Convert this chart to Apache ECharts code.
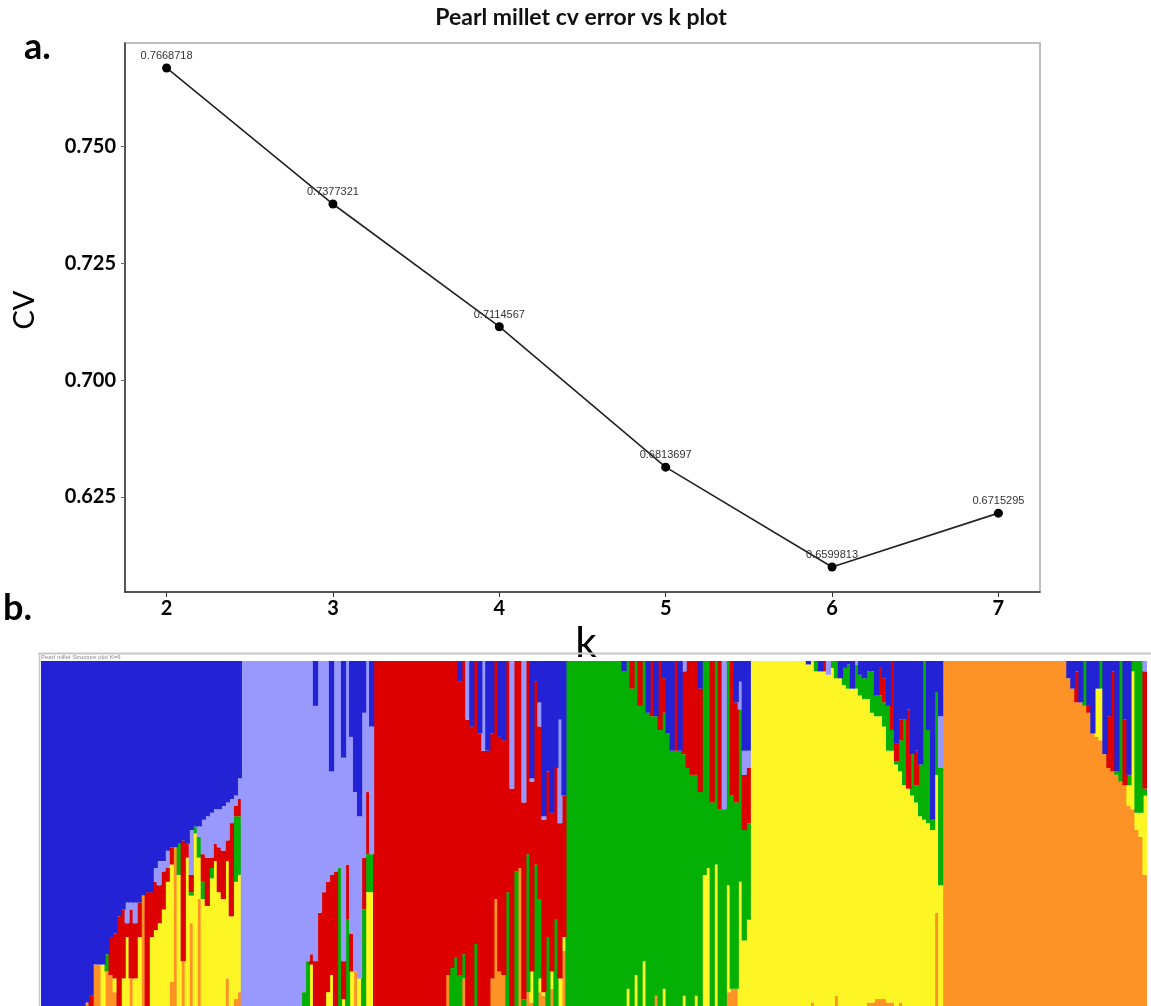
<!DOCTYPE html>
<html>
<head>
<meta charset="UTF-8">
<title>Pearl millet cv error vs k plot</title>
<script src="https://cdn.jsdelivr.net/npm/echarts@6/dist/echarts.min.js"></script>
<style>
    html, body { margin: 0; padding: 0; background: #fff; }
    #main { width: 1151px; height: 1006px; }
</style>
</head>
<body>
<div id="main"></div>
<script>
// ---- panel a: cross-validation error for each K ----
var kValues = [2, 3, 4, 5, 6, 7];
var cvError = [0.7668718, 0.7377321, 0.7114567, 0.6813697, 0.6599813, 0.6715295];
// tick labels as printed on the original figure (the lowest one reads 0.625)
var yTickValues = [0.675, 0.700, 0.725, 0.750];
var yTickLabels = ['0.625', '0.700', '0.725', '0.750'];

// ---- panel b: membership (%) of every accession in the 6 clusters, K=6 ----
// accessions left to right, one line per cluster block
var blueQ = [
    100,100,100,100,100,100,100,100,100,100,100,99,97,88,88,88,85,80,79,74,72,70,70,70,70,68,67,67,60,58,58,55,54,54,53,52,53,49,48,48,46,45,44,43,43,42,41,40,39,34,
    0,0,0,0,0,0,0,0,0,0,0,0,0,0,0,0,0,0,13,0,0,0,32,0,0,28,0,22,38,45,15,0,19,
    0,0,0,0,0,0,0,0,0,0,0,0,0,0,0,0,0,0,0,0,0,6,0,0,19,0,21,0,26,21,0,22,23,0,0,0,0,0,0,34,6,12,45,32,44,31,17,39,
    0,0,0,0,0,0,0,0,0,0,0,0,0,0,3,0,0,0,0,0,15,0,16,0,5,21,26,0,26,0,0,0,0,8,0,0,0,0,0,0,0,0,12,6,26,26,
    0,0,0,0,0,0,0,0,0,0,0,0,0,0,1,0,0,3,0,0,0,0,5,2,1,8,0,4,5,3,3,10,2,5,13,0,24,17,17,14,27,26,30,0,20,46,9,16,
    0,0,0,0,0,0,0,0,0,0,0,0,0,0,0,0,0,0,0,0,0,0,0,0,0,0,0,0,0,0,0,5,8,3,12,0,13,21,8,0,27,16,3,32,0,17,33,0,0,0,0
];
var lilacQ = [
    0,0,0,0,0,0,0,0,0,0,0,0,0,0,0,0,0,0,0,0,0,6,2,6,0,0,0,0,4,7,3,5,0,0,0,0,0,13,0,3,10,12,13,10,11,13,11,7,3,6,
    100,100,100,100,100,100,100,100,100,100,100,100,100,100,100,96,87,85,74,73,67,64,30,61,60,59,59,57,52,47,42,38,37,
    0,0,0,0,0,0,0,0,0,0,0,0,0,0,0,0,0,0,0,0,0,0,0,17,0,0,0,26,0,0,0,0,0,0,37,0,0,41,0,1,0,7,1,0,0,0,30,0,
    0,0,0,0,0,0,0,0,0,0,0,0,0,0,0,0,0,0,0,0,0,0,0,0,0,0,0,0,0,3,0,0,0,0,0,0,0,0,0,43,0,0,0,8,7,5,
    0,0,0,0,0,0,0,0,0,0,0,0,0,0,0,0,0,0,0,4,0,0,0,0,0,0,1,0,0,0,0,0,0,0,0,0,0,0,0,0,0,0,0,0,0,0,0,15,
    0,0,0,0,0,0,0,0,0,0,0,0,0,0,0,0,0,0,0,0,0,0,0,0,0,0,0,0,0,0,0,0,0,0,0,0,0,0,0,0,0,0,0,0,0,0,0,0,0,0,3
];
var redQ = [
    0,0,0,0,0,0,0,0,0,0,0,0,3,0,0,0,0,11,13,26,20,4,20,16,10,0,33,13,14,11,11,4,5,0,0,35,4,5,0,0,8,14,3,5,13,14,6,27,3,5,
    0,0,0,0,0,0,0,0,0,0,0,0,0,0,0,0,0,3,13,27,33,32,29,39,0,11,16,11,0,0,15,18,0,
    100,100,100,100,100,100,100,100,100,100,100,100,100,100,100,100,100,100,91,89,86,85,85,83,81,82,79,74,74,71,69,68,68,67,63,61,60,57,56,55,53,50,50,48,46,44,45,41,
    0,0,0,0,0,0,0,0,0,0,0,0,0,0,0,0,8,0,13,0,0,16,0,20,10,0,0,26,0,24,31,33,33,30,0,0,41,0,43,0,0,39,29,0,16,16,
    0,0,0,0,0,0,0,0,0,0,0,0,0,0,0,0,0,0,3,0,0,0,0,0,0,0,0,0,0,0,0,0,8,7,0,20,5,6,0,23,0,10,0,0,0,0,0,0,
    0,0,0,0,0,0,0,0,0,0,0,0,0,0,0,0,0,0,0,0,0,0,0,0,0,0,0,0,0,0,0,0,0,9,0,0,2,0,0,0,0,15,29,0,0,19,0,0,0,0,34
];
var greenQ = [
    0,0,0,0,0,0,0,0,0,0,0,0,0,0,0,0,5,0,0,0,0,0,0,0,0,0,0,0,0,0,0,0,0,0,9,0,0,1,2,6,5,0,3,0,0,0,0,0,19,17,
    0,0,0,0,0,0,0,0,0,0,0,0,0,0,0,4,13,0,0,0,0,0,0,0,40,0,25,0,0,0,28,11,11,
    0,0,0,0,0,0,0,0,0,0,0,0,0,0,0,0,0,0,0,11,14,9,7,0,0,18,0,0,0,0,0,0,0,33,0,39,0,2,40,0,41,23,0,20,0,25,0,0,
    100,100,100,100,100,100,100,100,100,100,100,100,100,100,97,95,92,91,87,87,85,84,81,80,80,79,74,74,74,70,69,67,64,62,62,60,59,59,57,57,65,56,54,50,32,28,
    0,0,0,0,0,0,0,0,0,0,0,0,0,0,0,0,3,0,0,0,2,5,0,5,7,0,7,6,6,8,12,6,6,7,13,6,1,9,19,0,12,5,15,46,27,3,24,34,
    0,0,0,0,0,0,0,0,0,0,0,0,0,0,0,0,0,0,0,0,0,0,0,0,0,0,0,0,0,0,0,0,0,0,0,13,0,0,0,8,0,0,0,1,35,0,3,3,44,44,2
];
var yellowQ = [
    0,0,0,0,0,0,0,0,0,0,0,0,0,0,0,12,0,0,4,0,8,20,0,8,20,0,0,20,22,24,28,36,34,0,38,0,43,8,50,12,31,29,37,42,33,31,34,26,34,34,
    0,0,0,0,0,0,0,0,0,0,0,0,0,0,0,0,0,12,0,0,0,4,9,0,0,2,0,10,0,8,0,33,33,
    0,0,0,0,0,0,0,0,0,0,0,0,0,0,0,0,0,0,0,0,0,0,0,0,0,0,0,0,0,0,0,0,0,0,0,0,0,0,0,9,0,4,1,0,5,0,8,4,
    0,0,0,0,0,0,0,0,0,0,0,0,0,0,0,5,0,9,0,13,0,0,0,0,5,0,0,0,0,3,0,0,3,0,38,40,0,41,0,0,31,0,0,36,19,25,
    100,100,100,100,100,100,100,100,100,100,100,100,100,100,99,99,97,97,97,96,98,92,95,93,92,92,92,90,89,88,84,82,82,79,73,73,70,67,64,63,61,59,55,54,53,51,40,35,
    0,0,0,0,0,0,0,0,0,0,0,0,0,0,0,0,0,0,0,0,0,0,0,0,0,0,0,0,0,0,0,0,0,0,0,0,0,0,14,15,0,0,0,0,0,0,6,40,5,7,23
];
var orangeQ = [
    0,0,0,0,0,0,0,0,0,0,0,1,0,12,12,0,10,9,4,0,0,0,8,0,0,32,0,0,0,0,0,0,7,46,0,13,0,24,0,31,0,0,0,0,0,0,8,0,2,4,
    0,0,0,0,0,0,0,0,0,0,0,0,0,0,0,0,0,0,0,0,0,0,0,0,0,0,0,0,10,0,0,0,0,
    0,0,0,0,0,0,0,0,0,0,0,0,0,0,0,0,0,0,9,0,0,0,8,0,0,0,0,0,0,8,31,10,9,0,0,0,40,0,4,1,0,4,3,0,5,0,0,16,
    0,0,0,0,0,0,0,0,0,0,0,0,0,0,0,0,0,0,0,0,0,0,3,0,0,0,0,0,0,0,0,0,0,0,0,0,0,0,0,0,4,5,5,0,0,0,
    0,0,0,0,0,0,0,0,0,0,0,0,0,0,0,1,0,0,0,0,0,3,0,0,0,0,0,0,0,1,1,2,2,2,1,1,0,1,0,0,0,0,0,0,0,0,27,0,
    100,100,100,100,100,100,100,100,100,100,100,100,100,100,100,100,100,100,100,100,100,100,100,100,100,100,100,100,100,100,100,95,92,88,88,87,85,79,78,77,73,69,68,67,65,64,58,57,51,49,38
];

var chart = echarts.init(document.getElementById('main'));

// quick check that every accession adds up to 100
(function () {
    var all = [orangeQ, yellowQ, greenQ, redQ, lilacQ, blueQ];
    for (var a = 0; a < all.length; a++) {
        if (all[a].length !== blueQ.length) console.error('length mismatch in array ' + a + ': ' + all[a].length);
    }
    for (var i = 0; i < blueQ.length; i++) {
        var s = 0;
        for (var b = 0; b < all.length; b++) s += all[b][i] || 0;
        if (s !== 100) console.error('accession ' + i + ' sums to ' + s);
    }
})();

var accessions = [];
for (var i = 0; i < blueQ.length; i++) accessions.push('acc' + (i + 1));

// stacking order, bottom first
var clusters = [
    { name: 'orange', data: orangeQ, color: '#fd9326' },
    { name: 'yellow', data: yellowQ, color: '#fdf624' },
    { name: 'green', data: greenQ, color: '#03b003' },
    { name: 'red', data: redQ, color: '#dc0000' },
    { name: 'lilac', data: lilacQ, color: '#9999fd' },
    { name: 'blue', data: blueQ, color: '#2323d5' }
];

var fontMain = 'Lato, "Open Sans", sans-serif';

var series = [{
    name: 'CV',
    type: 'line',
    xAxisIndex: 0,
    yAxisIndex: 0,
    data: kValues.map(function (k, i) { return [k, cvError[i]]; }),
    symbol: 'circle',
    symbolSize: 9,
    itemStyle: { color: '#000' },
    lineStyle: { color: '#222', width: 1.6 },
    label: {
        show: true,
        position: 'top',
        distance: 2,
        fontFamily: '"Liberation Sans", Arial, sans-serif',
        fontSize: 11,
        color: '#333',
        formatter: function (p) { return String(p.value[1]); }
    },
    silent: true
}];

clusters.forEach(function (c) {
    series.push({
        name: c.name,
        type: 'bar',
        xAxisIndex: 1,
        yAxisIndex: 1,
        stack: 'q',
        barWidth: 5.2,   // a bit wider than the slot so no seams show between bars
        data: c.data,
        itemStyle: { color: c.color },
        silent: true
    });
});

chart.setOption({
    animation: false,
    backgroundColor: '#fff',
    grid: [
        { left: 125, top: 43, width: 915, height: 549, show: true, borderColor: '#aaaaaa', borderWidth: 1.5, outerBoundsMode: 'none' },
        { left: 41, top: 661, width: 1106, height: 345, outerBoundsMode: 'none' }
    ],
    xAxis: [{
        type: 'value',
        gridIndex: 0,
        min: 1.75,
        max: 7.25,
        axisLine: { show: true, onZero: false, lineStyle: { color: '#333', width: 1.5 } },
        axisTick: { show: true, customValues: kValues, length: 5, lineStyle: { color: '#333' } },
        axisLabel: { customValues: kValues, margin: 7, fontFamily: fontMain, fontWeight: 'bold', fontSize: 20, color: '#000' },
        splitLine: { show: false }
    }, {
        type: 'category',
        gridIndex: 1,
        data: accessions,
        show: false
    }],
    yAxis: [{
        type: 'value',
        gridIndex: 0,
        min: 0.654637,
        max: 0.772217,
        axisLine: { show: true, lineStyle: { color: '#333', width: 1.5 } },
        axisTick: { show: true, customValues: yTickValues, length: 4, lineStyle: { color: '#666' } },
        axisLabel: {
            customValues: yTickValues,
            margin: 9,
            fontFamily: fontMain,
            fontWeight: 'bold',
            fontSize: 20,
            color: '#000',
            formatter: function (v) {
                for (var j = 0; j < yTickValues.length; j++) {
                    if (Math.abs(yTickValues[j] - v) < 1e-6) return yTickLabels[j];
                }
                return '';
            }
        },
        splitLine: { show: false }
    }, {
        type: 'value',
        gridIndex: 1,
        min: 0,
        max: 100,
        show: false
    }],
    graphic: [
        { type: 'text', x: 581, y: 18, style: { text: 'Pearl millet cv error vs k plot', fontFamily: fontMain, fontWeight: 'bold', fontSize: 23, fill: '#111', align: 'center', verticalAlign: 'middle' } },
        { type: 'text', x: 24, y: 47, style: { text: 'a.', fontFamily: fontMain, fontWeight: 'bold', fontSize: 36, fill: '#000', align: 'left', verticalAlign: 'middle' } },
        { type: 'text', x: 3, y: 608, style: { text: 'b.', fontFamily: fontMain, fontWeight: 'bold', fontSize: 36, fill: '#000', align: 'left', verticalAlign: 'middle' } },
        // axis titles
        { type: 'text', x: 25, y: 310, rotation: Math.PI / 2, style: { text: 'CV', fontFamily: fontMain, fontSize: 29, fill: '#000', align: 'center', verticalAlign: 'middle' } },
        { type: 'text', x: 586, y: 643, style: { text: 'k', fontFamily: fontMain, fontSize: 42, fill: '#000', align: 'center', verticalAlign: 'middle' } },
        // frame of the structure plot
        { type: 'line', shape: { x1: 38, y1: 653.5, x2: 1151, y2: 653.5 }, style: { stroke: '#c8c8c8', lineWidth: 2 } },
        { type: 'line', shape: { x1: 39.5, y1: 653, x2: 39.5, y2: 1006 }, style: { stroke: '#c8c8c8', lineWidth: 1.5 } },
        { type: 'text', x: 41, y: 657.5, style: { text: 'Pearl millet Structure plot K=6', fontFamily: '"Liberation Sans", Arial, sans-serif', fontSize: 6, fill: '#888', align: 'left', verticalAlign: 'middle' } }
    ],
    series: series
});
</script>
</body>
</html>
